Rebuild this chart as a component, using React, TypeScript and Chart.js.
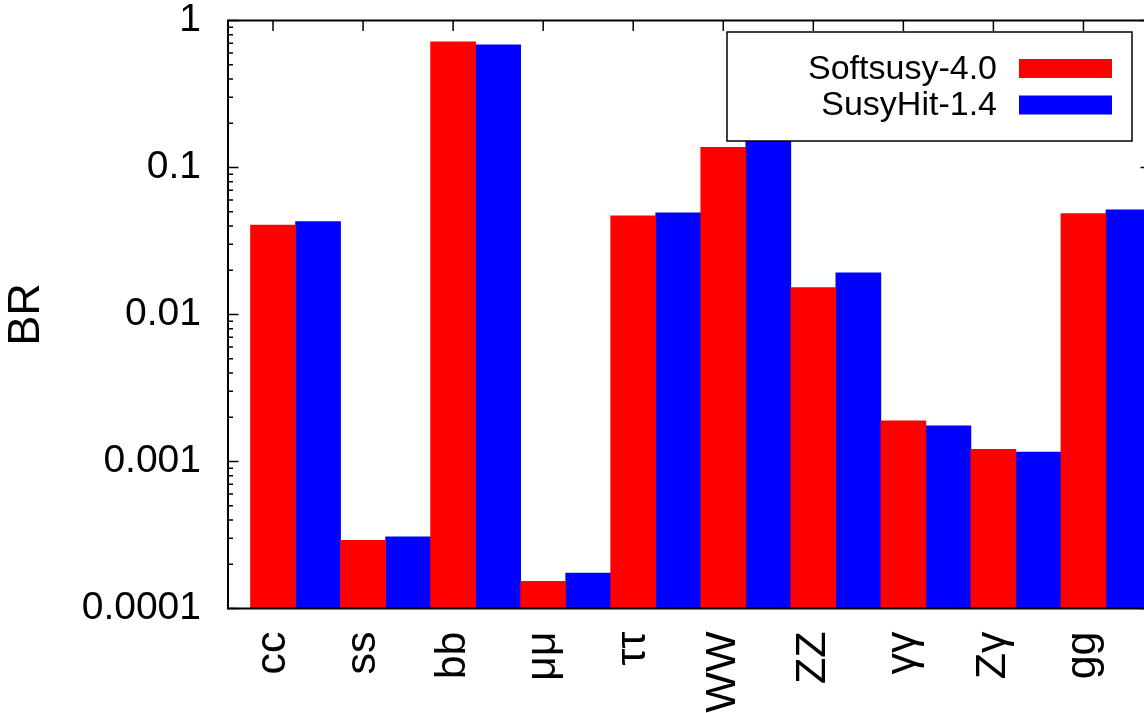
import React, { useEffect, useRef } from "react";
import { Chart, registerables } from "chart.js";

Chart.register(...registerables);

const categories = ["cc", "ss", "bb", "μμ", "ττ", "WW", "ZZ", "γγ", "Zγ", "gg"];
const softsusyValues = [0.0405, 2.91e-4, 0.716, 1.53e-4, 0.0469, 0.137, 0.01524, 1.89e-3, 1.21e-3, 0.0486];
const susyhitValues = [0.0429, 3.07e-4, 0.684, 1.74e-4, 0.0491, 0.156, 0.0192, 1.75e-3, 1.16e-3, 0.0515];
const seriesLabels = ["Softsusy-4.0", "SusyHit-1.4"];
const seriesColors = ["#ff0000", "#0000ff"];
const yTickValues = [1, 0.1, 0.01, 0.001, 0.0001];
const yTickLabels = ["1", "0.1", "0.01", "0.001", "0.0001"];
const yTitle = "BR";

const FONT = "'Liberation Sans', Arial, Helvetica, sans-serif";
const CANVAS_W = 1160;
const CANVAS_H = 713;

const framePlugin = {
  id: "frame",
  beforeDatasetsDraw(chart: any) {
    const { ctx, chartArea: a, scales } = chart;
    const x = scales.x;
    const y = scales.y;
    ctx.save();
    ctx.strokeStyle = "#000";
    ctx.lineWidth = 1.5;
    ctx.beginPath();
    for (let e = -4; e <= 0; e++) {
      for (let m = 1; m <= 9; m++) {
        const v = m * Math.pow(10, e);
        if (v > 1.0000001) break;
        const py = y.getPixelForValue(v);
        const len = m === 1 ? 10.5 : 5;
        ctx.moveTo(a.left, py);
        ctx.lineTo(a.left + len, py);
        ctx.moveTo(a.right, py);
        ctx.lineTo(a.right - len, py);
      }
    }
    x.ticks.forEach((t: any) => {
      const px = x.getPixelForValue(t.value);
      ctx.moveTo(px, a.top);
      ctx.lineTo(px, a.top + 10.5);
      ctx.moveTo(px, a.bottom);
      ctx.lineTo(px, a.bottom - 10.5);
    });
    ctx.stroke();
    ctx.restore();
  },
  afterDatasetsDraw(chart: any) {
    const { ctx, chartArea: a } = chart;
    ctx.save();
    ctx.strokeStyle = "#000";
    ctx.lineWidth = 2;
    ctx.strokeRect(a.left, a.top, a.right - a.left, a.bottom - a.top);

    // legend box
    const bx = 727, by = 32, bw = 405, bh = 109;
    ctx.fillStyle = "#fff";
    ctx.fillRect(bx, by, bw, bh);
    ctx.lineWidth = 1.5;
    ctx.strokeRect(bx, by, bw, bh);
    ctx.font = `34px ${FONT}`;
    ctx.textAlign = "right";
    ctx.textBaseline = "middle";
    chart.data.datasets.forEach((ds: any, i: number) => {
      const cy = 68.5 + i * 36.5;
      ctx.fillStyle = "#000";
      ctx.fillText(ds.label, 997, cy + 1);
      ctx.fillStyle = ds.backgroundColor;
      ctx.fillRect(1019, cy - 9.5, 93, 19);
    });
    ctx.restore();
  },
};

export default function App() {
  const canvasRef = useRef<HTMLCanvasElement | null>(null);

  useEffect(() => {
    const canvas = canvasRef.current;
    if (!canvas) return;
    const datasets = [softsusyValues, susyhitValues].map((vals, k) => ({
      label: seriesLabels[k],
      data: vals.map((v, i) => ({ x: i, y: v })),
      backgroundColor: seriesColors[k],
      borderWidth: 0,
      categoryPercentage: 1,
      barPercentage: 1,
    }));

    const chart = new Chart(canvas, {
      type: "bar",
      data: { datasets },
      options: {
        animation: false,
        responsive: true,
        maintainAspectRatio: false,
        layout: { padding: { top: 20.5, right: CANVAS_W - 1151, left: 0, bottom: 0 } },
        plugins: {
          legend: { display: false },
          tooltip: { enabled: false },
        },
        scales: {
          x: {
            type: "linear",
            offset: false,
            min: -0.75,
            max: 9.5,
            grid: { display: false, drawTicks: false, tickLength: 0, offset: false },
            border: { display: false },
            afterBuildTicks: (s: any) => {
              s.ticks = categories.map((_, i) => ({ value: i - 0.25 }));
            },
            afterFit: (s: any) => {
              s.height = CANVAS_H - 608.5;
              s.paddingLeft = 0;
              s.paddingRight = 0;
              s.paddingTop = 0;
              s.paddingBottom = 0;
            },
            ticks: {
              autoSkip: false,
              minRotation: 90,
              maxRotation: 90,
              padding: 23,
              color: "#000",
              font: { family: FONT, size: 43 },
              callback: (_v: any, i: number) => categories[i],
            },
          },
          y: {
            type: "logarithmic",
            min: 0.0001,
            max: 1,
            grid: { display: false, drawTicks: false, tickLength: 0 },
            border: { display: false },
            afterBuildTicks: (s: any) => {
              s.ticks = yTickValues.map((v) => ({ value: v, major: true }));
            },
            afterFit: (s: any) => {
              s.width = 228;
              s.paddingTop = 0;
              s.paddingBottom = 0;
              s.paddingLeft = 0;
              s.paddingRight = 0;
            },
            ticks: {
              padding: 27,
              color: "#000",
              font: { family: FONT, size: 39 },
              callback: (v: any) => {
                const idx = yTickValues.findIndex(
                  (t) => Math.abs(Math.log10(t) - Math.log10(Number(v))) < 1e-6
                );
                return idx >= 0 ? yTickLabels[idx] : "";
              },
            },
            title: {
              display: true,
              text: yTitle,
              color: "#000",
              padding: 0,
              font: { family: FONT, size: 45 },
            },
          },
        },
      },
      plugins: [framePlugin],
    } as any);

    return () => chart.destroy();
  }, []);

  return (
    <div
      style={{
        position: "fixed",
        left: 0,
        top: 0,
        width: 1144,
        height: CANVAS_H,
        overflow: "hidden",
        background: "#fff",
      }}
    >
      <div style={{ position: "relative", width: CANVAS_W, height: CANVAS_H }}>
        <canvas ref={canvasRef} />
      </div>
    </div>
  );
}
